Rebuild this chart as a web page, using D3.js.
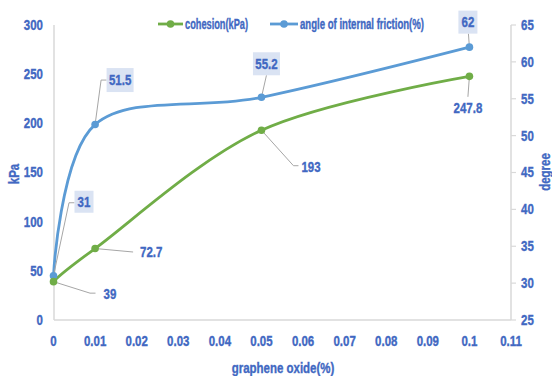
<!DOCTYPE html>
<html>
<head>
<meta charset="utf-8">
<script src="https://cdn.jsdelivr.net/npm/d3@7"></script>
<style>
  html, body { margin: 0; padding: 0; background: #fff; }
  svg { display: block; }
  text { font-family: "Liberation Sans Narrow", "Arial Narrow", "Liberation Sans", sans-serif; font-weight: bold; fill: #4168c2; stroke: #4168c2; stroke-width: 0.35; }
</style>
</head>
<body>
<svg id="chart" width="552" height="376"></svg>
<script>
// Graphene oxide content (%)
const dosage = [0, 0.01, 0.05, 0.1];
// Cohesion (kPa), left axis
const cohesion = [39, 72.7, 193, 247.8];
// Angle of internal friction (degree), right axis
const friction = [31, 51.5, 55.2, 62];

const xTicks = [0, 0.01, 0.02, 0.03, 0.04, 0.05, 0.06, 0.07, 0.08, 0.09, 0.1, 0.11];
const leftTicks = [0, 50, 100, 150, 200, 250, 300];
const rightTicks = [25, 30, 35, 40, 45, 50, 55, 60, 65];

const seriesNames = ["cohesion(kPa)", "angle of internal friction(%)"];

const GREEN = "#70ad47", BLUE = "#5b9bd5", AXIS = "#d9d9d9", LEAD = "#a6a6a6", BOX = "#dae3f3";
const SX = 0.82; // horizontal squeeze for the condensed lettering
const FS = 14;

const svg = d3.select("#chart");
const x = d3.scaleLinear().domain([0, 0.11]).range([53.5, 511]);
const yL = d3.scaleLinear().domain([0, 300]).range([320, 25]);
const yR = d3.scaleLinear().domain([25, 65]).range([320, 25]);

// text helper: squeezed horizontally around its anchor
function label(g, tx, ty, str, anchor, rotate, len) {
  const t = g.append("g").attr("transform", `translate(${tx},${ty}) rotate(${rotate || 0}) scale(${SX},1)`);
  const el = t.append("text").attr("text-anchor", anchor || "middle").attr("dominant-baseline", "central")
    .attr("font-size", FS).text(str);
  if (len) el.attr("textLength", len / SX).attr("lengthAdjust", "spacingAndGlyphs");
  return t;
}

// axis lines
svg.append("line").attr("x1", 54).attr("x2", 54).attr("y1", 25).attr("y2", 320).attr("stroke", AXIS).attr("stroke-width", 1.5);
svg.append("line").attr("x1", 54).attr("x2", 511).attr("y1", 320).attr("y2", 320).attr("stroke", AXIS).attr("stroke-width", 1.5);
svg.append("line").attr("x1", 511).attr("x2", 511).attr("y1", 25).attr("y2", 320).attr("stroke", AXIS).attr("stroke-width", 1.5);

// right axis tick marks
const ax = svg.append("g");
rightTicks.forEach(v => {
  ax.append("line").attr("x1", 511).attr("x2", 516).attr("y1", yR(v)).attr("y2", yR(v)).attr("stroke", AXIS).attr("stroke-width", 1.2);
});

// tick labels
xTicks.forEach(v => label(ax, x(v), 341, d3.format("")(v), "middle"));
leftTicks.forEach(v => label(ax, 43, yL(v), v, "end"));
rightTicks.forEach(v => label(ax, 521, yR(v), v, "start"));

// axis titles
label(svg, 283, 368, "graphene oxide(%)", "middle");
label(svg, 14, 174, "kPa", "middle", -90);
label(svg, 545, 172, "degree", "middle", -90);

// smoothed lines
const lineL = d3.line().x((d, i) => x(dosage[i])).y(d => yL(d)).curve(d3.curveCardinal.tension(0));
const lineR = d3.line().x((d, i) => x(dosage[i])).y(d => yR(d)).curve(d3.curveCardinal.tension(0));

svg.append("path").attr("d", lineR(friction)).attr("fill", "none").attr("stroke", BLUE).attr("stroke-width", 2.8);
svg.append("path").attr("d", lineL(cohesion)).attr("fill", "none").attr("stroke", GREEN).attr("stroke-width", 2.8);

// label placement relative to each point: centre offset, leader path, box size
const frictionLabels = [
  { dx: 30.5, dy: -74, lead: [[0, 0], [15.5, -73], [21, -73]], w: 19, h: 22 },
  { dx: 25, dy: -44.5, lead: [[0, 0], [6, -44.5], [11.5, -44.5]], w: 27, h: 24 },
  { dx: 5, dy: -33.5, lead: [[0, 0], [5, -22]], w: 27, h: 23 },
  { dx: -1.5, dy: -25, lead: [[0, 0], [-1, -13.5]], w: 19, h: 23 }
];
const cohesionLabels = [
  { dx: 50, dy: 12.5, anchor: "start", lead: [[0, 0], [36.5, 11.5], [42, 11.5]] },
  { dx: 45, dy: 3.5, anchor: "start", lead: [[0, 0], [38, 3.5]] },
  { dx: 40, dy: 36.5, anchor: "start", lead: [[0, 0], [32, 35.5], [37, 35.5]] },
  { dx: -1.5, dy: 31.5, anchor: "middle", lead: [[0, 0], [-1.5, 20.5]] }
];

const leaderLine = d3.line();
const gl = svg.append("g");
friction.forEach((v, i) => {
  const px = x(dosage[i]), py = yR(v), L = frictionLabels[i];
  gl.append("path").attr("d", leaderLine(L.lead.map(p => [px + p[0], py + p[1]])))
    .attr("fill", "none").attr("stroke", LEAD).attr("stroke-width", 1);
  gl.append("rect").attr("x", px + L.dx - L.w / 2).attr("y", py + L.dy - L.h / 2)
    .attr("width", L.w).attr("height", L.h).attr("fill", BOX);
  label(gl, px + L.dx, py + L.dy, v, "middle");
});
cohesion.forEach((v, i) => {
  const px = x(dosage[i]), py = yL(v), L = cohesionLabels[i];
  gl.append("path").attr("d", leaderLine(L.lead.map(p => [px + p[0], py + p[1]])))
    .attr("fill", "none").attr("stroke", LEAD).attr("stroke-width", 1);
  label(gl, px + L.dx, py + L.dy, v, L.anchor);
});

// markers
svg.append("g").selectAll("circle").data(friction).join("circle")
  .attr("cx", (d, i) => x(dosage[i])).attr("cy", d => yR(d)).attr("r", 3.8).attr("fill", BLUE);
svg.append("g").selectAll("circle").data(cohesion).join("circle")
  .attr("cx", (d, i) => x(dosage[i])).attr("cy", d => yL(d)).attr("r", 3.8).attr("fill", GREEN);

// legend
const lg = svg.append("g");
[[GREEN, 158, 183, seriesNames[0], 63], [BLUE, 270, 298, seriesNames[1], 124]].forEach(([c, a, b, name, len]) => {
  lg.append("line").attr("x1", a).attr("x2", b).attr("y1", 24).attr("y2", 24).attr("stroke", c).attr("stroke-width", 2.8);
  lg.append("circle").attr("cx", (a + b) / 2).attr("cy", 24).attr("r", 3.8).attr("fill", c);
  label(lg, b + 2, 24, name, "start", 0, len);
});
</script>
</body>
</html>
